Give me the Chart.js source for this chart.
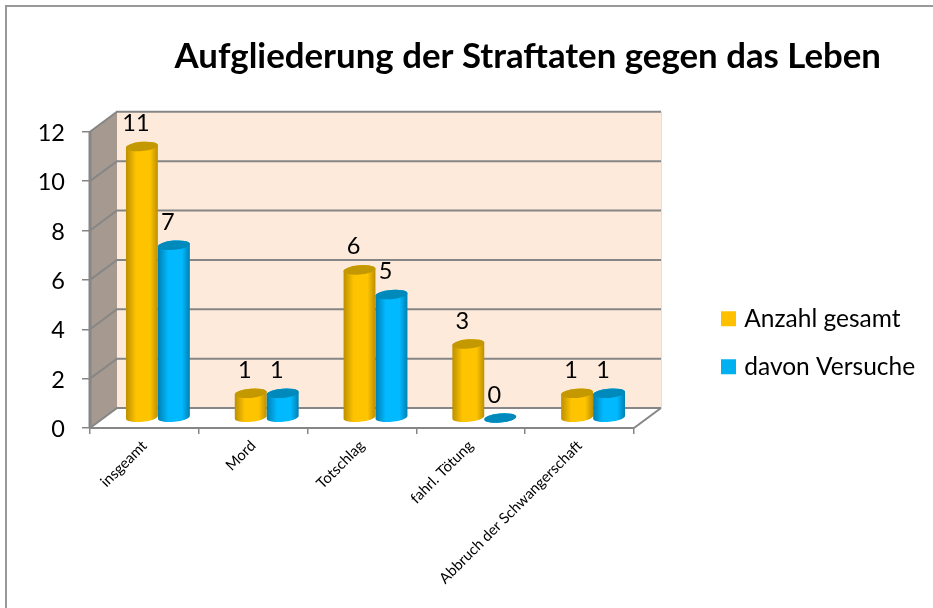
<!DOCTYPE html>
<html><head><meta charset="utf-8">
<style>html,body{margin:0;padding:0;background:#fff}canvas{display:block}</style>
<script src="https://cdn.jsdelivr.net/npm/chart.js@4"></script>
</head><body><canvas id="c" width="933" height="608"></canvas>
<script>
const categories = ['insgeamt','Mord','Totschlag','fahrl. Tötung','Abbruch der Schwangerschaft'];
const anzahlGesamt = [11,1,6,3,1];
const davonVersuche = [7,1,5,0,1];
const yTicks = [0,2,4,6,8,10,12];
const titleText = 'Aufgliederung der Straftaten gegen das Leben';
const FONT = 'Lato';
const DEPTH_X = 27, DEPTH_Y = 20, LINE = '#868686';
const shades = [
  {edge:'#BC8F00', mid:'#FFC400', top:'#C49800'},
  {edge:'#007FB0', mid:'#00B9FF', top:'#0089BB'}
];
function drawCyl(ctx, el, s){
  const p = el.getProps(['x','y','base','width'], true);
  const cx = p.x + DEPTH_X/2, rx = p.width/2, ry = 4.6, rot = -5*Math.PI/180;
  const top = p.y - DEPTH_Y/2, base = p.base - DEPTH_Y/2;
  const g = ctx.createLinearGradient(cx-rx,0,cx+rx,0);
  g.addColorStop(0,s.edge); g.addColorStop(.32,s.mid); g.addColorStop(.75,s.mid); g.addColorStop(1,s.edge);
  ctx.beginPath();
  ctx.ellipse(cx,base,rx,ry,rot,0,Math.PI);
  ctx.ellipse(cx,top,rx,ry,rot,Math.PI,2*Math.PI);
  ctx.closePath(); ctx.fillStyle=g; ctx.fill();
  ctx.beginPath(); ctx.ellipse(cx,top,rx,ry,rot,0,2*Math.PI); ctx.fillStyle=s.top; ctx.fill();
}
const scene = {
  id:'scene',
  beforeLayout(chart){
    const l = chart.legend;
    if(!l._fitWrapped){
      const fit = l.fit;
      l.fit = function(){ fit.call(this); this.width = 247; };
      l._fitWrapped = true;
    }
  },
  afterLayout(chart){
    const l = chart.legend;
    l.left = 701.5; l.right = 933; l.top = 283; l.bottom = 608;
  },
  beforeDraw(chart){
    const ctx = chart.ctx;
    ctx.save();
    ctx.fillStyle='#fff'; ctx.fillRect(0,0,933,608);
    ctx.strokeStyle='#999'; ctx.lineWidth=2;
    ctx.beginPath(); ctx.moveTo(6,608); ctx.lineTo(6,6); ctx.lineTo(933,6); ctx.stroke();
    ctx.restore();
  },
  beforeDatasetsDraw(chart){
    const ctx = chart.ctx, a = chart.chartArea, y = chart.scales.y;
    const L=a.left,R=a.right,T=a.top,B=a.bottom,dx=DEPTH_X,dy=DEPTH_Y;
    ctx.save();
    ctx.fillStyle='#FDEADA'; ctx.fillRect(L+dx,T-dy,R-L,B-T);
    ctx.strokeStyle='#F5D9C6'; ctx.lineWidth=1;
    ctx.beginPath(); ctx.moveTo(R+dx+.5,T-dy); ctx.lineTo(R+dx+.5,B-dy); ctx.stroke();
    ctx.fillStyle='#A69A90';
    ctx.beginPath(); ctx.moveTo(L,T); ctx.lineTo(L+dx,T-dy); ctx.lineTo(L+dx,B-dy); ctx.lineTo(L,B); ctx.closePath(); ctx.fill();
    ctx.strokeStyle=LINE; ctx.lineWidth=2;
    yTicks.forEach(v=>{
      const py=y.getPixelForValue(v);
      ctx.beginPath(); ctx.moveTo(L,py); ctx.lineTo(L+dx,py-dy); ctx.lineTo(R+dx,py-dy); ctx.stroke();
    });
    ctx.beginPath(); ctx.moveTo(R,B); ctx.lineTo(R+dx,B-dy); ctx.stroke();
    ctx.lineWidth=3;
    ctx.beginPath(); ctx.moveTo(L,T); ctx.lineTo(L,B); ctx.stroke();
    ctx.lineWidth=2;
    ctx.beginPath(); ctx.moveTo(L-1,B); ctx.lineTo(R,B); ctx.stroke();
    chart.data.datasets.forEach((d,i)=>chart.getDatasetMeta(i).data.forEach(el=>drawCyl(ctx,el,shades[i])));
    ctx.fillStyle='#000'; ctx.font='23.5px '+FONT; ctx.textAlign='center'; ctx.textBaseline='middle';
    chart.data.datasets.forEach((d,i)=>chart.getDatasetMeta(i).data.forEach((el,j)=>{
      ctx.fillText(String(d.data[j]), el.x + DEPTH_X/2 - 6, el.y - DEPTH_Y/2 - 23);
    }));
    ctx.restore();
    return false;
  }
};
new Chart(document.getElementById('c'),{
  type:'bar',
  data:{labels:categories,datasets:[
    {label:'Anzahl gesamt',data:anzahlGesamt,backgroundColor:'#FFC000'},
    {label:'davon Versuche',data:davonVersuche,backgroundColor:'#00B0F0'}
  ]},
  plugins:[scene],
  options:{
    responsive:false,animation:false,
    layout:{padding:{left:0,right:52,top:0,bottom:0}},
    datasets:{bar:{categoryPercentage:0.588,barPercentage:1}},
    plugins:{
      tooltip:{enabled:false},
      title:{display:true,text:titleText,align:'end',color:'#000',
        font:{family:FONT,size:34.8,weight:'bold'},padding:{top:36,bottom:54}},
      legend:{position:'right',align:'start',
        labels:{boxWidth:7,boxHeight:7,padding:23.5,color:'#000',font:{family:FONT,size:24.5},
          generateLabels:ch=>ch.data.datasets.map((d,i)=>({text:d.label,fillStyle:d.backgroundColor,strokeStyle:d.backgroundColor,lineWidth:8,datasetIndex:i,hidden:false}))}}
    },
    scales:{
      x:{afterFit(s){s.height=180;},
        border:{display:false},
        grid:{drawOnChartArea:false,drawTicks:true,tickLength:6,color:LINE,lineWidth:1.5,offset:true},
        ticks:{minRotation:45,maxRotation:45,autoSkip:false,color:'#000',padding:3,font:{family:FONT,size:14.8}}},
      y:{min:0,max:12,afterFit(s){s.width=90;},
        border:{display:false},
        grid:{drawOnChartArea:false,drawTicks:true,tickLength:8,color:LINE,lineWidth:1.5},
        ticks:{stepSize:2,color:'#000',padding:17,labelOffset:1.5,font:{family:FONT,size:23.5}}}
    }
  }
});
</script></body></html>
